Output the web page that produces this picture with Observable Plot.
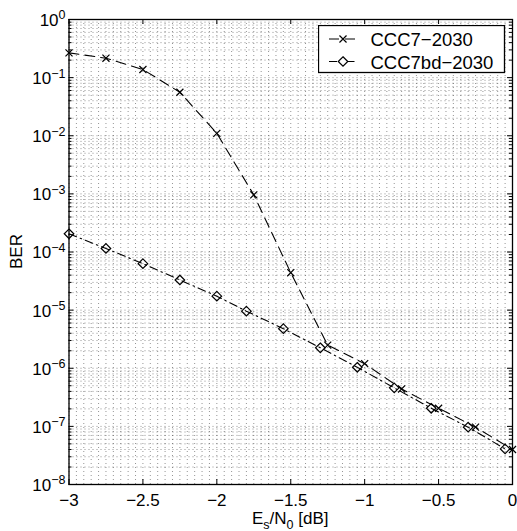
<!DOCTYPE html>
<html><head><meta charset="utf-8">
<script src="https://cdn.jsdelivr.net/npm/d3@7"></script>
<script src="https://cdn.jsdelivr.net/npm/@observablehq/plot@0.6"></script>
<style>
html,body{margin:0;padding:0;background:#fff;}
#wrap{position:relative;width:517px;height:531px;overflow:hidden;}
#legend{position:absolute;left:318px;top:25px;}
</style></head><body><div id="wrap"></div>
<script>
// ---- data ----
const seriesNames = ["CCC7−2030", "CCC7bd−2030"];
const snrCCC7   = [-3, -2.75, -2.5, -2.25, -2, -1.75, -1.5, -1.25, -1, -0.75, -0.5, -0.25, 0];
const berCCC7   = [0.267, 0.216, 0.138, 0.056, 0.011, 9.6e-4, 4.4e-5, 2.5e-6, 1.2e-6, 4.4e-7, 2.05e-7, 9.7e-8, 4.0e-8];
const snrCCC7bd = [-3, -2.75, -2.5, -2.25, -2, -1.8, -1.55, -1.3, -1.05, -0.8, -0.55, -0.3, -0.05];
const berCCC7bd = [2.06e-4, 1.15e-4, 6.3e-5, 3.3e-5, 1.74e-5, 9.6e-6, 4.8e-6, 2.25e-6, 1.04e-6, 4.6e-7, 2.05e-7, 9.7e-8, 4.1e-8];
const xTicks      = [-3, -2.5, -2, -1.5, -1, -0.5, 0];
const xTickLabels = ["−3", "−2.5", "−2", "−1.5", "−1", "−0.5", "0"];
const yTicks      = [1e-8, 1e-7, 1e-6, 1e-5, 1e-4, 1e-3, 1e-2, 1e-1, 1];
const yExponents  = ["−8", "−7", "−6", "−5", "−4", "−3", "−2", "−1", "0"];
const yTitle = "BER";

// ---- layout ----
const W = 517, H = 531, mL = 68.5, mR = 5, mT = 19, mB = 47;
const innerW = W - mL - mR, innerH = H - mT - mB;
const FONT = '"Liberation Sans", Arial, Helvetica, sans-serif';

const dA = snrCCC7.map((x, i) => ({x, y: berCCC7[i]}));
const dB = snrCCC7bd.map((x, i) => ({x, y: berCCC7bd[i]}));

// grid positions
const xMinor = d3.range(0, 61).map(k => -3 + k * 0.05);
const yMinor = [];
for (let e = -8; e < 0; e++) for (let m = 2; m <= 9; m++) yMinor.push(m * Math.pow(10, e));

const gridStyle = {stroke: "#000", strokeOpacity: 0.42, strokeWidth: 1, strokeDasharray: "1,3"};

const plot = Plot.plot({
  width: W, height: H,
  marginLeft: mL, marginRight: mR, marginTop: mT, marginBottom: mB,
  style: {fontFamily: FONT, fontSize: "17px", background: "#fff", color: "#000", overflow: "visible"},
  x: {domain: [-3, 0]},
  y: {type: "log", domain: [1e-8, 1]},
  marks: [
    Plot.ruleX(xMinor, gridStyle),
    Plot.ruleY(yMinor, gridStyle),
    Plot.ruleY(yTicks, gridStyle),
    // series lines
    Plot.line(dA, {x: "x", y: "y", stroke: "#000", strokeWidth: 1.1, strokeDasharray: "10,6"}),
    Plot.line(dB, {x: "x", y: "y", stroke: "#000", strokeWidth: 1.1, strokeDasharray: "8,4,1.5,4"}),
    Plot.dot(dA, {x: "x", y: "y", symbol: "times", r: 3.3, stroke: "#000", strokeWidth: 1.2}),
    Plot.dot(dB, {x: "x", y: "y", symbol: "diamond2", r: 4.3, stroke: "#000", fill: "none", strokeWidth: 1.2}),
    // inward ticks
    Plot.ruleX(xTicks, {stroke: "#000", insetTop: innerH - 5}),
    Plot.ruleX(xTicks, {stroke: "#000", insetBottom: innerH - 5}),
    Plot.ruleY(yTicks, {stroke: "#000", insetRight: innerW - 5}),
    Plot.ruleY(yTicks, {stroke: "#000", insetLeft: innerW - 5}),
    Plot.ruleY(yMinor, {stroke: "#000", insetRight: innerW - 3}),
    Plot.ruleY(yMinor, {stroke: "#000", insetLeft: innerW - 3}),
    Plot.frame({stroke: "#000", strokeWidth: 1.3}),
    // axes
    Plot.axisX(xTicks, {tickSize: 0, tickPadding: 9.5, label: null, fontSize: 17,
      tickFormat: d => xTickLabels[xTicks.indexOf(d)]}),
    Plot.axisY(yTicks, {tickSize: 0, tickPadding: 3.5, label: null, fontSize: 17, dy: 1,
      tickFormat: d => yExponents[yTicks.indexOf(d)]})
  ]
});

// superscript exponents on y tick labels
d3.select(plot).selectAll('g[aria-label="y-axis tick label"] text').each(function() {
  const t = d3.select(this);
  const exp = this.textContent;
  t.text(null);
  t.append("tspan").text("10");
  t.append("tspan").attr("dy", -6.5).attr("font-size", 12.5).text(exp);
});

const svg = d3.select(plot);
// x label with subscripts
const xl = svg.append("text")
  .attr("x", mL + innerW / 2).attr("y", 524)
  .attr("text-anchor", "middle").attr("font-family", FONT).attr("font-size", 17).attr("fill", "#000");
xl.append("tspan").text("E");
xl.append("tspan").attr("dy", 5).attr("font-size", 12.5).text("s");
xl.append("tspan").attr("dy", -5).text("/N");
xl.append("tspan").attr("dy", 5).attr("font-size", 12.5).text("0");
xl.append("tspan").attr("dy", -5).text(" [dB]");
// y label
svg.append("text")
  .attr("transform", `translate(21.5,${mT + innerH / 2}) rotate(-90)`)
  .attr("text-anchor", "middle").attr("font-family", FONT).attr("font-size", 17).attr("fill", "#000")
  .text(yTitle);

const wrap = document.getElementById("wrap");
wrap.appendChild(plot);

// legend (overlay box)
const lg = d3.select(wrap).append("svg").attr("id", "legend")
  .attr("width", 188).attr("height", 49);
lg.append("rect").attr("x", 0.5).attr("y", 0.5).attr("width", 186).attr("height", 47)
  .attr("fill", "#fff").attr("stroke", "#000").attr("stroke-width", 1.3);
const rowsY = [14, 36.5];
const dashes = ["10,6", "8,4,1.5,4"];
const syms = [d3.symbolTimes, d3.symbolDiamond2];
const symSize = [Math.PI * 3.3 * 3.3, Math.PI * 4.3 * 4.3];
seriesNames.forEach((name, i) => {
  lg.append("line").attr("x1", 11).attr("x2", 39).attr("y1", rowsY[i]).attr("y2", rowsY[i])
    .attr("stroke", "#000").attr("stroke-width", 1.1).attr("stroke-dasharray", dashes[i]);
  lg.append("path").attr("d", d3.symbol(syms[i], symSize[i])())
    .attr("transform", `translate(25,${rowsY[i]})`)
    .attr("fill", i === 1 ? "#fff" : "none").attr("stroke", "#000").attr("stroke-width", 1.2);
  lg.append("text").attr("x", 52.5).attr("y", rowsY[i] + 7)
    .attr("font-family", FONT).attr("font-size", 18.5).attr("fill", "#000").text(name);
});
</script>
</body></html>
